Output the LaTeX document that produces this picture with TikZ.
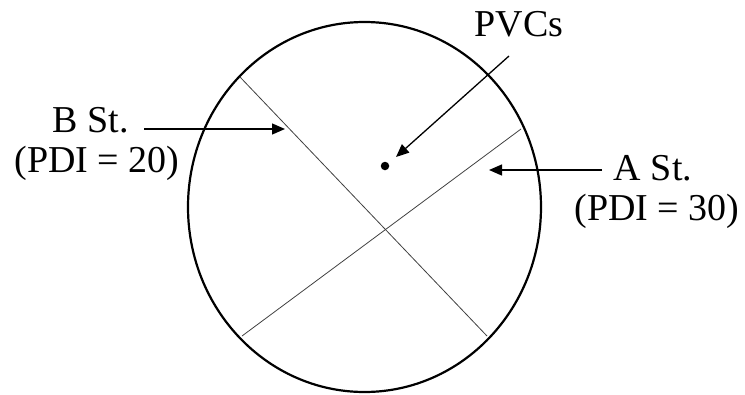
\documentclass[tikz,border=0pt]{standalone}
\usepackage{fontspec}
\setmainfont{Liberation Serif}
\usetikzlibrary{arrows.meta,positioning,shapes.geometric}
\tikzset{
  label text/.style={font=\fontsize{38}{40}\selectfont,inner sep=0pt,anchor=base},
  street/.style={line width=0.8pt,black!75},
  pointer/.style={line width=1.3pt,-{Triangle[length=13pt,width=11pt]}}
}

\begin{document}
\begin{tikzpicture}[x=1pt,y=-1pt]
      \useasboundingbox (0,0) rectangle (745,394);

      \node[draw,ellipse,line width=2.2pt,inner sep=0pt,
        minimum width=353pt,minimum height=370pt] (tract) at (364.5,207) {};

      % streets
      \coordinate (bnw) at (240,77);
      \coordinate (bse) at (487,336);
      \coordinate (asw) at (242,336);
      \coordinate (ane) at (521,129);
      \draw[street] (bnw) -- (bse);
      \draw[street] (asw) -- (ane);

      \node[circle,fill,inner sep=0pt,minimum size=8.5pt] (pvc) at (385,166) {};

      \node[label text] (pvcs) at (519,36) {PVCs};
      \node[label text] (bname) at (91,132) {B St.};
      \node[label text] (bpdi) at (97,172) {(PDI = 20)};
      \node[label text] (aname) at (653,180) {A St.};
      \node[label text] (apdi) at (657,220) {(PDI = 30)};

      \coordinate (pvctail) at (509,56);
      \coordinate (pvchead) at (396,157);
      \coordinate (btail) at (144,129);
      \coordinate (bhead) at (285,129);
      \coordinate (atail) at (602,170);
      \coordinate (ahead) at (489,170);
      \draw[pointer] (pvctail) -- (pvchead);
      \draw[pointer] (btail) -- (bhead);
      \draw[pointer] (atail) -- (ahead);
    \end{tikzpicture}
\end{document}
